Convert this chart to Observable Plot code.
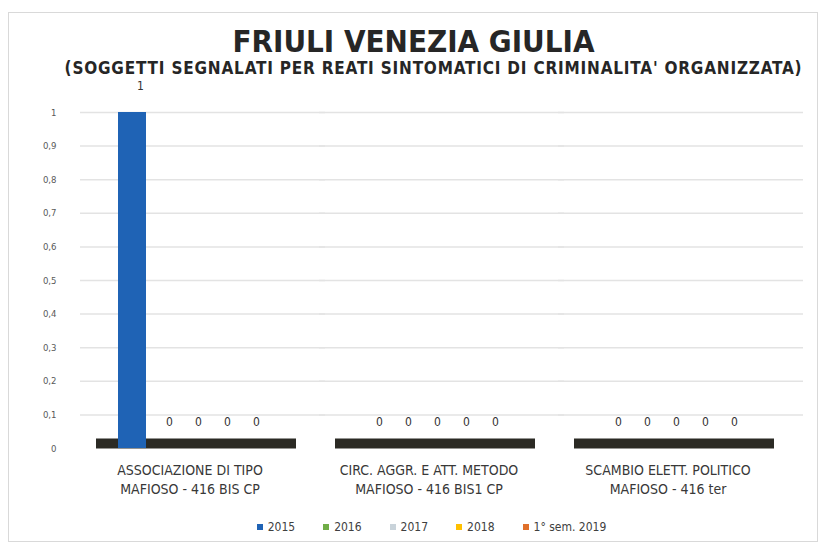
<!DOCTYPE html>
<html><head><meta charset="utf-8">
<script src="https://cdn.jsdelivr.net/npm/d3@7"></script>
<script src="https://cdn.jsdelivr.net/npm/@observablehq/plot@0.6"></script>
<style>
body{margin:0;background:#fff;}
#wrap{position:relative;width:827px;height:545px;overflow:hidden;font-family:"Liberation Sans Narrow","DejaVu Sans Condensed","Open Sans",sans-serif;color:#262626;}
#frame{position:absolute;left:8px;top:12px;width:810px;height:530px;border:1px solid #d9d9d9;box-sizing:border-box;}
#title{position:absolute;top:21px;left:0;width:827px;text-align:center;font-weight:bold;font-size:31px;line-height:40px;color:#262626;}
#subtitle{position:absolute;top:58px;left:20px;width:827px;text-align:center;font-weight:bold;font-size:17px;letter-spacing:0.8px;line-height:20px;color:#262626;}
#chart{position:absolute;top:70px;left:0;}
#legend{position:absolute;top:520px;left:18px;width:827px;text-align:center;font-size:12px;color:#404040;}
#legend span.item{margin:0 14px;white-space:nowrap;}
#legend span.sw{display:inline-block;width:6px;height:6px;margin-right:5px;vertical-align:1px;}
</style>
</head><body>
<div id="wrap">
  <div id="frame"></div>
  <div id="title">FRIULI VENEZIA GIULIA</div>
  <div id="subtitle">(SOGGETTI SEGNALATI PER REATI SINTOMATICI DI CRIMINALITA' ORGANIZZATA)</div>
  <div id="chart"></div>
  <div id="legend"></div>
</div>
<script>
const categories = [
  "ASSOCIAZIONE DI TIPO\nMAFIOSO - 416 BIS CP",
  "CIRC. AGGR. E ATT. METODO\nMAFIOSO - 416 BIS1 CP",
  "SCAMBIO ELETT. POLITICO\nMAFIOSO - 416 ter"
];
const series = ["2015", "2016", "2017", "2018", "1° sem. 2019"];
const values2015 = [1, 0, 0];
const values2016 = [0, 0, 0];
const values2017 = [0, 0, 0];
const values2018 = [0, 0, 0];
const values2019 = [0, 0, 0];
const seriesColors = ["#1f63b5", "#70ad47", "#c9d3da", "#ffc000", "#e0702a"];
const yTicks = [0, 0.1, 0.2, 0.3, 0.4, 0.5, 0.6, 0.7, 0.8, 0.9, 1];

const allValues = [values2015, values2016, values2017, values2018, values2019];
const data = [];
categories.forEach((c, ci) => {
  series.forEach((s, si) => {
    data.push({category: c, series: s, value: allValues[si][ci]});
  });
});

const fmt = d => (d === 0 || d === 1) ? String(d) : d3.format(".1f")(d).replace(".", ",");

const chart = Plot.plot({
  width: 827,
  height: 440,
  marginLeft: 70,
  marginRight: 40,
  marginTop: 42,
  marginBottom: 62,
  style: {fontFamily: '"Liberation Sans Narrow","DejaVu Sans Condensed",sans-serif', background: "transparent"},
  fx: {domain: categories, paddingInner: 0.37, paddingOuter: 0.185, label: null},
  x: {domain: series, axis: null, padding: 0.04},
  y: {domain: [0, 1], label: null},
  color: {domain: series, range: seriesColors},
  marks: [
    Plot.ruleY(yTicks.slice(1), {stroke: "#e3e3e3", strokeWidth: 1.5, insetLeft: -34, insetRight: -60}),
    Plot.axisY({ticks: yTicks, tickFormat: fmt, tickSize: 0, tickPadding: 58, fontSize: 9.5, color: "#595959", label: null, anchor: "left"}),
    Plot.axisFx({anchor: "bottom", tickSize: 0, tickPadding: 13, fontSize: 14, lineHeight: 1.36, color: "#383838", label: null}),
    Plot.ruleY([0], {stroke: "#2b2a24", strokeWidth: 10, insetLeft: -18, insetRight: -31, dy: -5}),
    Plot.barY(data, {fx: "category", x: "series", y: "value", fill: "series"}),
    Plot.text(data, {fx: "category", x: "series", y: "value", text: d => String(d.value), dy: -26, fontSize: 12, fill: "#333", dx: 8})
  ]
});
document.getElementById("chart").appendChild(chart);

const legend = document.getElementById("legend");
series.forEach((s, i) => {
  const item = document.createElement("span");
  item.className = "item";
  const sw = document.createElement("span");
  sw.className = "sw";
  sw.style.background = seriesColors[i];
  item.appendChild(sw);
  item.appendChild(document.createTextNode(s));
  legend.appendChild(item);
});
</script>
</body></html>
